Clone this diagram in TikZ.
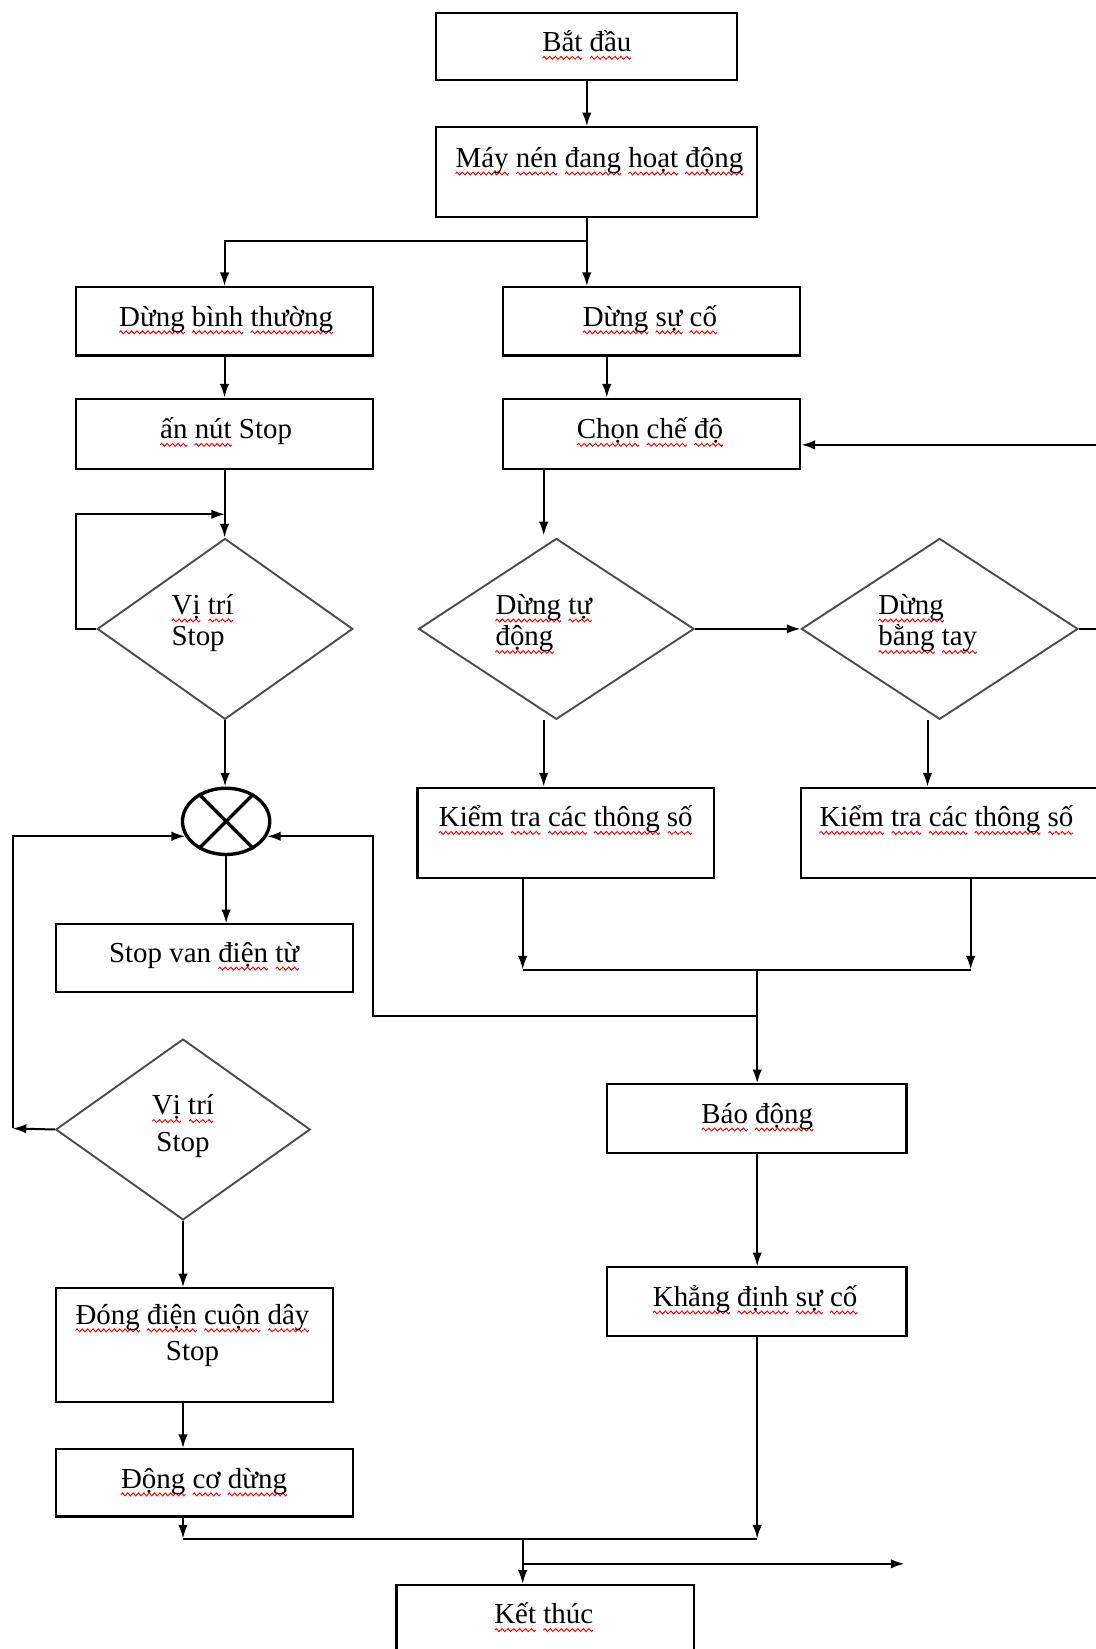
\documentclass[tikz,border=0pt]{standalone}
\usepackage{fontspec}
\setmainfont{Liberation Serif}
\usetikzlibrary{shapes.geometric,arrows.meta,calc}
\newcommand\wv{\hbox to 5pt{\special{pdf:content q 1 0 0 RG 0.9 w 1 J 0 0 m 1.25 1.4 l 2.5 0 l 3.75 -1.4 l 5 0 l S Q}\hss}}
\newcommand\sq[1]{\setbox0\hbox{#1}\rlap{\raisebox{-6pt}{\hbox to \wd0{\xleaders\wv\hfil}}}\box0\relax}
\begin{document}
\begin{tikzpicture}[x=1pt,y=-1pt,
  box/.style={draw=black,line width=2pt,rectangle,inner sep=0pt},
  dia/.style={draw=black!70,line width=1.8pt,diamond,inner sep=0pt},
  ln/.style={draw=black,line width=1.9pt},
  arr/.style={ln,-{Latex[length=13pt,width=9pt]}},
  txt/.style={font=\fontsize{27.5}{33}\selectfont,inner sep=0pt,anchor=base},
  txl/.style={txt,anchor=base west}]
\useasboundingbox (0,0) rectangle (1042,1568);
\fill[white] (0,0) rectangle (1042,1568);
\clip (0,0) rectangle (1042,1568);
% boxes
\node[box,minimum width=286pt,minimum height=64pt] (start) at (558,44) {};
\node[box,minimum width=305pt,minimum height=85pt] (run) at (567.5,163.5) {};
\node[box,minimum width=283pt,minimum height=65pt] (normal) at (213.5,305.5) {};
\node[box,minimum width=283pt,minimum height=65pt] (fault) at (619.5,305.5) {};
\node[box,minimum width=283pt,minimum height=67pt] (press) at (213.5,412.5) {};
\node[box,minimum width=283pt,minimum height=67pt] (mode) at (619.5,412.5) {};
\node[dia,minimum width=243pt,minimum height=172pt] (d1) at (214,598) {};
\node[dia,minimum width=262pt,minimum height=172pt] (d3) at (529,598) {};
\node[dia,minimum width=263pt,minimum height=172pt] (d4) at (893.5,598) {};
\node[ellipse,draw=black,line width=3.2pt,minimum width=83pt,minimum height=63pt,inner sep=0pt] (cx) at (215,781) {};
\draw[line width=3.2pt] (cx.45) -- (cx.225) (cx.135) -- (cx.315);
\node[box,minimum width=282pt,minimum height=86pt] (chk1) at (538,792) {};
\node[box,minimum width=300pt,minimum height=86pt] (chk2) at (912,792) {};
\node[box,minimum width=283pt,minimum height=64pt] (valve) at (194.5,911) {};
\node[dia,minimum width=242pt,minimum height=172pt] (d2) at (174,1074) {};
\node[box,minimum width=285pt,minimum height=65pt] (alarm) at (719.5,1063.5) {};
\node[box,minimum width=285pt,minimum height=65pt] (confirm) at (719.5,1237.5) {};
\node[box,minimum width=264pt,minimum height=108pt] (coil) at (185,1279) {};
\node[box,minimum width=283pt,minimum height=64pt] (motor) at (194.5,1410) {};
\node[box,minimum width=283pt,minimum height=80pt] (end) at (518.5,1547) {};
% texts
\node[txt] (t1) at (558,49) {\sq{Bắt} \sq{đầu}};
\node[txt] (t2) at (570,159) {\sq{Máy} \sq{nén} \sq{đang} \sq{hoạt} \sq{động}};
\node[txt] (t3) at (215,310) {\sq{Dừng} \sq{bình} \sq{thường}};
\node[txt] (t4) at (618,310) {\sq{Dừng} \sq{sự} \sq{cố}};
\node[txt] (t5) at (215,417) {\sq{ấn} \sq{nút} Stop};
\node[txt] (t6) at (618,417) {\sq{Chọn} \sq{chế} \sq{độ}};
\node[txl] (t7a) at (163,584) {\sq{Vị} \sq{trí}};
\node[txl] (t7b) at (163,614) {Stop};
\node[txl] (t8a) at (471,584) {\sq{Dừng} \sq{tự}};
\node[txl] (t8b) at (471,614) {\sq{động}};
\node[txl] (t9a) at (835,584) {\sq{Dừng}};
\node[txl] (t9b) at (835,614) {\sq{bằng} \sq{tay}};
\node[txt] (t10) at (538,786) {\sq{Kiểm} \sq{tra} \sq{các} \sq{thông} \sq{số}};
\node[txt] (t11) at (900,786) {\sq{Kiểm} \sq{tra} \sq{các} \sq{thông} \sq{số}};
\node[txt] (t12) at (194,915) {Stop van \sq{điện} \sq{từ}};
\node[txt] (t13a) at (174,1060) {\sq{Vị} \sq{trí}};
\node[txt] (t13b) at (174,1095) {Stop};
\node[txt] (t14) at (720,1068) {\sq{Báo} \sq{động}};
\node[txt] (t15) at (718,1242) {\sq{Khẳng} \sq{định} \sq{sự} \sq{cố}};
\node[txt] (t16a) at (183,1259) {\sq{Đóng} \sq{điện} \sq{cuộn} \sq{dây}};
\node[txt] (t16b) at (183,1294) {Stop};
\node[txt] (t17) at (194,1415) {\sq{Động} \sq{cơ} \sq{dừng}};
\node[txt] (t18) at (517,1544) {\sq{Kết} \sq{thúc}};
% coordinates
\coordinate (j1) at (558,229);
\coordinate (fx) at (577,0);
\coordinate (l1) at (72,489);
\coordinate (lc) at (12,1073);
\coordinate (bj) at (720,966);
\coordinate (rl) at (355,966);
\coordinate (m1) at (174,1463);
\coordinate (m2) at (497,1463);
\coordinate (m3) at (497,1487);
\coordinate (m4) at (860,1487);
\coordinate (mx) at (517,0);
\coordinate (rr) at (1064,423);
\coordinate (nx) at (882,0);
\coordinate (k1) at (497,922);
\coordinate (k2) at (923,922);
\coordinate (bx) at (720,922);
% connectors
\draw[arr] (start.south) -- (start.south |- run.north);
\draw[ln] (j1 |- run.south) -- (j1);
\draw[arr] (j1) -| (normal.north);
\draw[arr] (j1) -- (j1 |- fault.north);
\draw[arr] (normal.south) -- (press.north);
\draw[arr] (fault.south -| fx) -- (mode.north -| fx);
\draw[arr] (press.south) -- (press.south |- d1.north);
\draw[arr] (d1.west) -- (d1.west -| l1) -- (l1) -- (l1 -| d1.north);
\draw[arr] (d1.south) -- (d1.south |- cx.north);
\draw[arr] (cx.south) -- (cx.south |- valve.north);
\draw[arr] (d2.west) -- (lc);
\draw[arr] (lc) |- (cx.200);
\draw[arr] (bj) -- (rl) |- (cx.340);
\draw[arr] (d2.south) -- (d2.south |- coil.north);
\draw[arr] (coil.south -| d2.south) -- (motor.north -| d2.south);
\draw[arr] (motor.south -| d2.south) -- (m1);
\draw[arr] (confirm.south -| bx) -- (m1 -| bx);
\draw[ln] (m1) -- (m1 -| bx);
\draw[arr] (m2) -- (m2 |- end.north);
\draw[arr] (m3) -- (m4);
\draw[arr] (mode.south -| mx) -- ($(mx |- d3.north)+(0,-2)$);
\draw[arr] (d3.east) -- (d4.west);
\draw[arr] (d4.east) -| (rr) -- (rr -| mode.east);
\draw[arr] (mx |- d3.south) -- (mx |- chk1.north);
\draw[arr] (nx |- d4.south) -- (nx |- chk2.north);
\draw[arr] (chk1.south -| k1) -- (k1);
\draw[arr] (chk2.south -| k2) -- (k2);
\draw[ln] (k1) -- (k2);
\draw[arr] (bx) -- (bx |- alarm.north);
\draw[arr] (alarm.south -| bx) -- (confirm.north -| bx);
\end{tikzpicture}
\end{document}
